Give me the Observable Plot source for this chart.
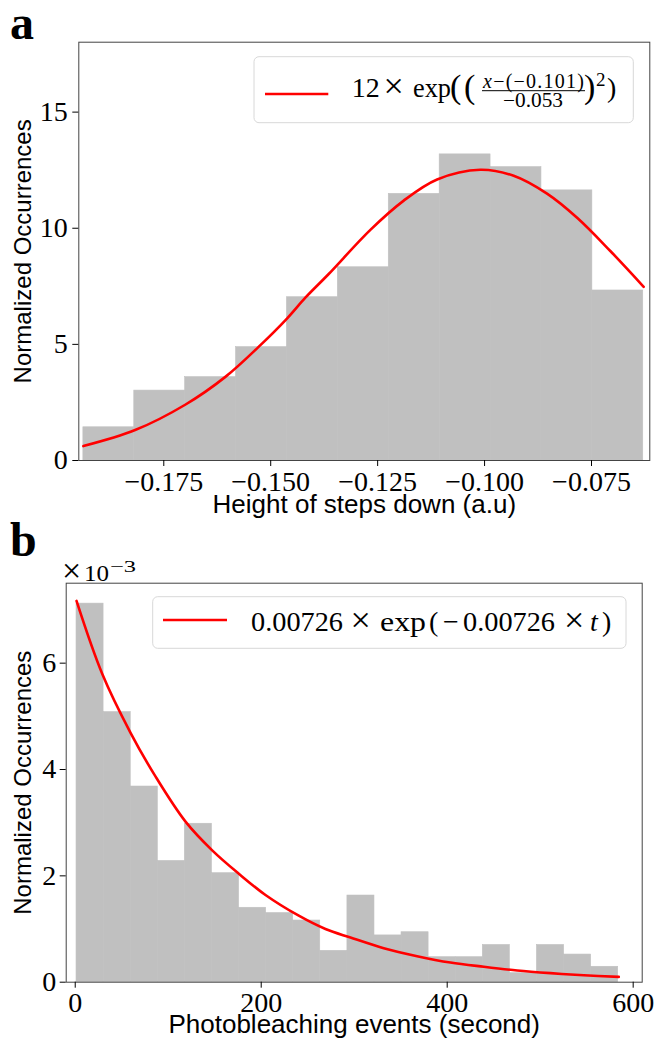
<!DOCTYPE html>
<html>
<head>
<meta charset="utf-8">
<script src="https://cdn.jsdelivr.net/npm/d3@7"></script>
<script src="https://cdn.jsdelivr.net/npm/@observablehq/plot@0.6"></script>
<style>
  html, body { margin: 0; padding: 0; background: white; }
  #root { position: relative; width: 665px; height: 1038px; background: white; overflow: hidden; }
  #panelA, #panelB, #overlay { position: absolute; left: 0; }
  #panelA { top: 0; }
  #panelB { top: 520px; }
  #overlay { top: 0; pointer-events: none; }
</style>
</head>
<body>
<div id="root">
  <div id="panelA"></div>
  <div id="panelB"></div>
  <svg id="overlay" width="665" height="1038"></svg>
</div>
<script>
// ---------- Panel a: step heights ----------
const topBinEdges = [-0.1938, -0.1819, -0.1700, -0.1581, -0.1462, -0.1343, -0.1224, -0.1105, -0.0986, -0.0867, -0.0748, -0.0629];
const topCounts = [1.43, 3.01, 3.59, 4.88, 7.03, 8.32, 11.48, 13.18, 12.63, 11.63, 7.32];
const topFitX = [-0.1938, -0.1817, -0.1700, -0.1606, -0.1529, -0.1462, -0.1419, -0.1365, -0.1267, -0.1189, -0.1111, -0.1010, -0.0932, -0.0854, -0.0783, -0.0706, -0.0628];
const topFitY = [0.62, 1.31, 2.40, 3.60, 4.88, 6.11, 7.01, 8.02, 9.93, 11.19, 12.10, 12.52, 12.26, 11.49, 10.44, 9.02, 7.48];
const topXTicks = [-0.175, -0.150, -0.125, -0.100, -0.075];
const topYTicks = [0, 5, 10, 15];
const topXLabel = "Height of steps down (a.u)";
const topYLabel = "Normalized Occurrences";

// ---------- Panel b: photobleaching times (values in units of 1e-3) ----------
const botBinEdges = [1.4, 30.5, 59.7, 88.8, 117.9, 147.0, 176.2, 205.3, 234.4, 263.5, 292.7, 321.8, 350.9, 380.0, 409.2, 438.3, 467.4, 496.5, 525.7, 554.8, 583.9];
const botCounts = [7.12, 5.08, 3.68, 2.28, 2.98, 2.05, 1.40, 1.30, 1.16, 0.59, 1.63, 0.88, 0.94, 0.47, 0.47, 0.70, 0.17, 0.70, 0.52, 0.29];
const botFitX = [1.4, 29.0, 59.5, 86.3, 118.6, 147.3, 175.9, 204.6, 240.4, 269.1, 296.0, 331.8, 367.7, 403.5, 439.4, 475.3, 511.1, 546.9, 584.5];
const botFitY = [7.17, 5.80, 4.69, 3.87, 3.02, 2.48, 2.04, 1.64, 1.25, 1.00, 0.84, 0.64, 0.49, 0.37, 0.29, 0.22, 0.17, 0.13, 0.10];
const botXTicks = [0, 200, 400, 600];
const botYTicks = [0, 2, 4, 6];
const botXLabel = "Photobleaching events (second)";
const botYLabel = "Normalized Occurrences";

const serif = "'Liberation Serif', 'Times New Roman', serif";
const sans = "'Liberation Sans', Arial, sans-serif";
const barFill = "#c0c0c0";
const axisColor = "#444";

const topBins = topCounts.map((v, i) => ({x1: topBinEdges[i], x2: topBinEdges[i + 1], y: v}));
const topFit = topFitX.map((x, i) => ({x, y: topFitY[i]}));
const botBins = botCounts.map((v, i) => ({x1: botBinEdges[i], x2: botBinEdges[i + 1], y: v}));
const botFit = botFitX.map((x, i) => ({x, y: botFitY[i]}));

const commonStyle = {fontFamily: serif, fontSize: "28px", color: "black", background: "transparent", overflow: "visible"};

const plotA = Plot.plot({
  width: 665, height: 520,
  marginTop: 41.7, marginBottom: 60, marginLeft: 78.3, marginRight: 15.7,
  style: commonStyle,
  x: {domain: [-0.19487, -0.06137]},
  y: {domain: [0, 18.01]},
  marks: [
    Plot.rect(topBins, {x1: "x1", x2: "x2", y1: d => 0, y2: "y", fill: barFill, stroke: barFill, strokeWidth: 0.6}),
    Plot.line(topFit, {x: "x", y: "y", stroke: "#ff0000", strokeWidth: 2.6, curve: "catmull-rom"}),
    Plot.frame({stroke: axisColor, strokeWidth: 1}),
    Plot.axisX({ticks: topXTicks, tickFormat: d => "\u2212" + Math.abs(d).toFixed(3), tickSize: 6, tickPadding: 5, label: null}),
    Plot.axisY({ticks: topYTicks, tickFormat: d => String(d), tickSize: 6, tickPadding: 5, label: null}),
    Plot.text([topXLabel], {text: d => d, frameAnchor: "bottom", lineAnchor: "top", dy: 34, fontSize: 26, fontFamily: sans, fill: "black"}),
    Plot.text([topYLabel], {text: d => d, frameAnchor: "left", textAnchor: "middle", rotate: -90, dx: -55, fontSize: 24, fontFamily: sans, fill: "black"})
  ]
});
document.getElementById("panelA").appendChild(plotA);

const plotB = Plot.plot({
  width: 665, height: 518,
  marginTop: 62.7, marginBottom: 56.3, marginLeft: 65.7, marginRight: 23.3,
  style: commonStyle,
  x: {domain: [-9.7, 609.7]},
  y: {domain: [0, 7.504]},
  marks: [
    Plot.rect(botBins, {x1: "x1", x2: "x2", y1: d => 0, y2: "y", fill: barFill, stroke: barFill, strokeWidth: 0.6}),
    Plot.line(botFit, {x: "x", y: "y", stroke: "#ff0000", strokeWidth: 2.6, curve: "catmull-rom"}),
    Plot.frame({stroke: axisColor, strokeWidth: 1}),
    Plot.axisX({ticks: botXTicks, tickFormat: d => String(d), tickSize: 6, tickPadding: 4, label: null}),
    Plot.axisY({ticks: botYTicks, tickFormat: d => String(d), tickSize: 6, tickPadding: 4, label: null}),
    Plot.text([botXLabel], {text: d => d, frameAnchor: "bottom", lineAnchor: "top", dy: 32, fontSize: 26, fontFamily: sans, fill: "black"}),
    Plot.text([botYLabel], {text: d => d, frameAnchor: "left", textAnchor: "middle", rotate: -90, dx: -42.7, fontSize: 24, fontFamily: sans, fill: "black"})
  ]
});
document.getElementById("panelB").appendChild(plotB);

// ---------- Overlay: panel letters, offset text, legends ----------
const ov = d3.select("#overlay");
function txt(x, y, s, size, opts = {}) {
  const t = ov.append("text").attr("x", x).attr("y", y).text(s)
    .attr("font-family", serif).attr("font-size", size).attr("fill", "black");
  if (opts.weight) t.attr("font-weight", opts.weight);
  if (opts.italic) t.attr("font-style", "italic");
  if (opts.anchor) t.attr("text-anchor", opts.anchor);
  if (opts.len) t.attr("textLength", opts.len).attr("lengthAdjust", "spacingAndGlyphs");
  return t;
}
// panel letters
txt(10, 39, "a", 48, {weight: "bold"});
txt(10, 556, "b", 48, {weight: "bold"});
// offset text ×10^-3
txt(62, 582, "\u00d7", 34);
txt(84, 581, "10", 24, {len: 25});
txt(110, 572, "\u22123", 17, {len: 26});

// legend a
ov.append("rect").attr("x", 254).attr("y", 56.7).attr("width", 379.3).attr("height", 66).attr("rx", 5)
  .attr("fill", "white").attr("fill-opacity", 0.8).attr("stroke", "#d8d8d8").attr("stroke-width", 1);
ov.append("line").attr("x1", 265).attr("x2", 328.3).attr("y1", 94).attr("y2", 94)
  .attr("stroke", "#ff0000").attr("stroke-width", 2.7);
txt(351.7, 96.7, "12", 28);
txt(383.5, 98, "\u00d7", 36);
txt(413, 96.7, "exp", 28, {len: 38});
txt(450, 98, "(", 34);
txt(464, 98, "(", 34);
{
  const num = ov.append("text").attr("x", 533.5).attr("y", 87.5).attr("text-anchor", "middle")
    .attr("font-family", serif).attr("font-size", 20).attr("fill", "black")
    .attr("textLength", 101).attr("lengthAdjust", "spacing");
  num.append("tspan").attr("font-style", "italic").text("x");
  num.append("tspan").text("\u2212(\u22120.101)");
}
ov.append("line").attr("x1", 482).attr("x2", 585).attr("y1", 90.7).attr("y2", 90.7)
  .attr("stroke", "black").attr("stroke-width", 1);
txt(533, 107, "\u22120.053", 20, {anchor: "middle", len: 60});
txt(584, 98, ")", 34);
txt(596, 86, "2", 19);
txt(607, 96.7, ")", 28);

// legend b
ov.append("rect").attr("x", 152.7).attr("y", 596.7).attr("width", 473.3).attr("height", 51.6).attr("rx", 5)
  .attr("fill", "white").attr("fill-opacity", 0.8).attr("stroke", "#d8d8d8").attr("stroke-width", 1);
ov.append("line").attr("x1", 163).attr("x2", 227).attr("y1", 620).attr("y2", 620)
  .attr("stroke", "#ff0000").attr("stroke-width", 2.7);
txt(251, 630.7, "0.00726", 28, {len: 92});
txt(350.5, 632, "\u00d7", 36);
txt(380, 630.7, "exp", 28, {len: 46});
txt(429, 630.7, "(", 28);
txt(443, 630.7, "\u2212", 28);
txt(463, 630.7, "0.00726", 28, {len: 92});
txt(564, 632, "\u00d7", 36);
txt(590, 630.7, "t", 28, {italic: true});
txt(602, 630.7, ")", 28);
</script>
</body>
</html>
